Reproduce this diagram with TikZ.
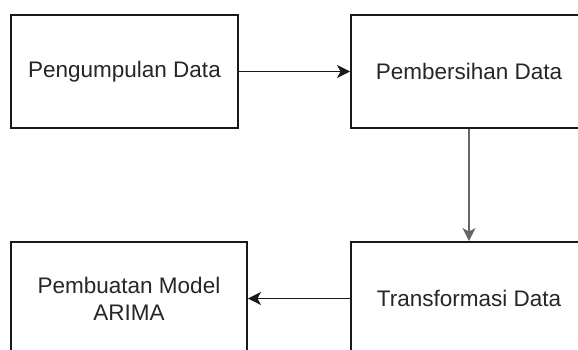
\documentclass[tikz,border=0pt]{standalone}
\usepackage{fontspec}
\setmainfont{Liberation Sans}
\usetikzlibrary{arrows.meta}
\begin{document}
\begin{tikzpicture}[x=1pt,y=-1pt,
  procbox/.style={draw=black!90,line width=1.9pt,fill=white,rectangle,inner sep=0pt,
    text=black!85,font=\fontsize{22.5}{27}\selectfont,align=center},
  flow/.style={line width=1.9pt,-{Stealth[length=13pt,width=13pt,inset=3.5pt]}}]
\useasboundingbox (0,0) rectangle (578,350);
\clip (0,0) rectangle (578,350);
\node[procbox,minimum width=227pt,minimum height=113pt] (a) at (124.5,71.5) {Pengumpulan Data};
\node[procbox,minimum width=236pt,minimum height=113pt] (b) at (469,71.5) {Pembersihan Data};
\node[procbox,minimum width=236pt,minimum height=113pt] (c) at (469,298.5) {Transformasi Data};
\node[procbox,minimum width=236pt,minimum height=113pt] (d) at (129,298.5) {Pembuatan Model\\ARIMA};
\draw[flow,black!90] (a) -- (b);
\draw[flow,black!60] (b) -- (c);
\draw[flow,black!90] (c) -- (d);
\end{tikzpicture}
\end{document}
